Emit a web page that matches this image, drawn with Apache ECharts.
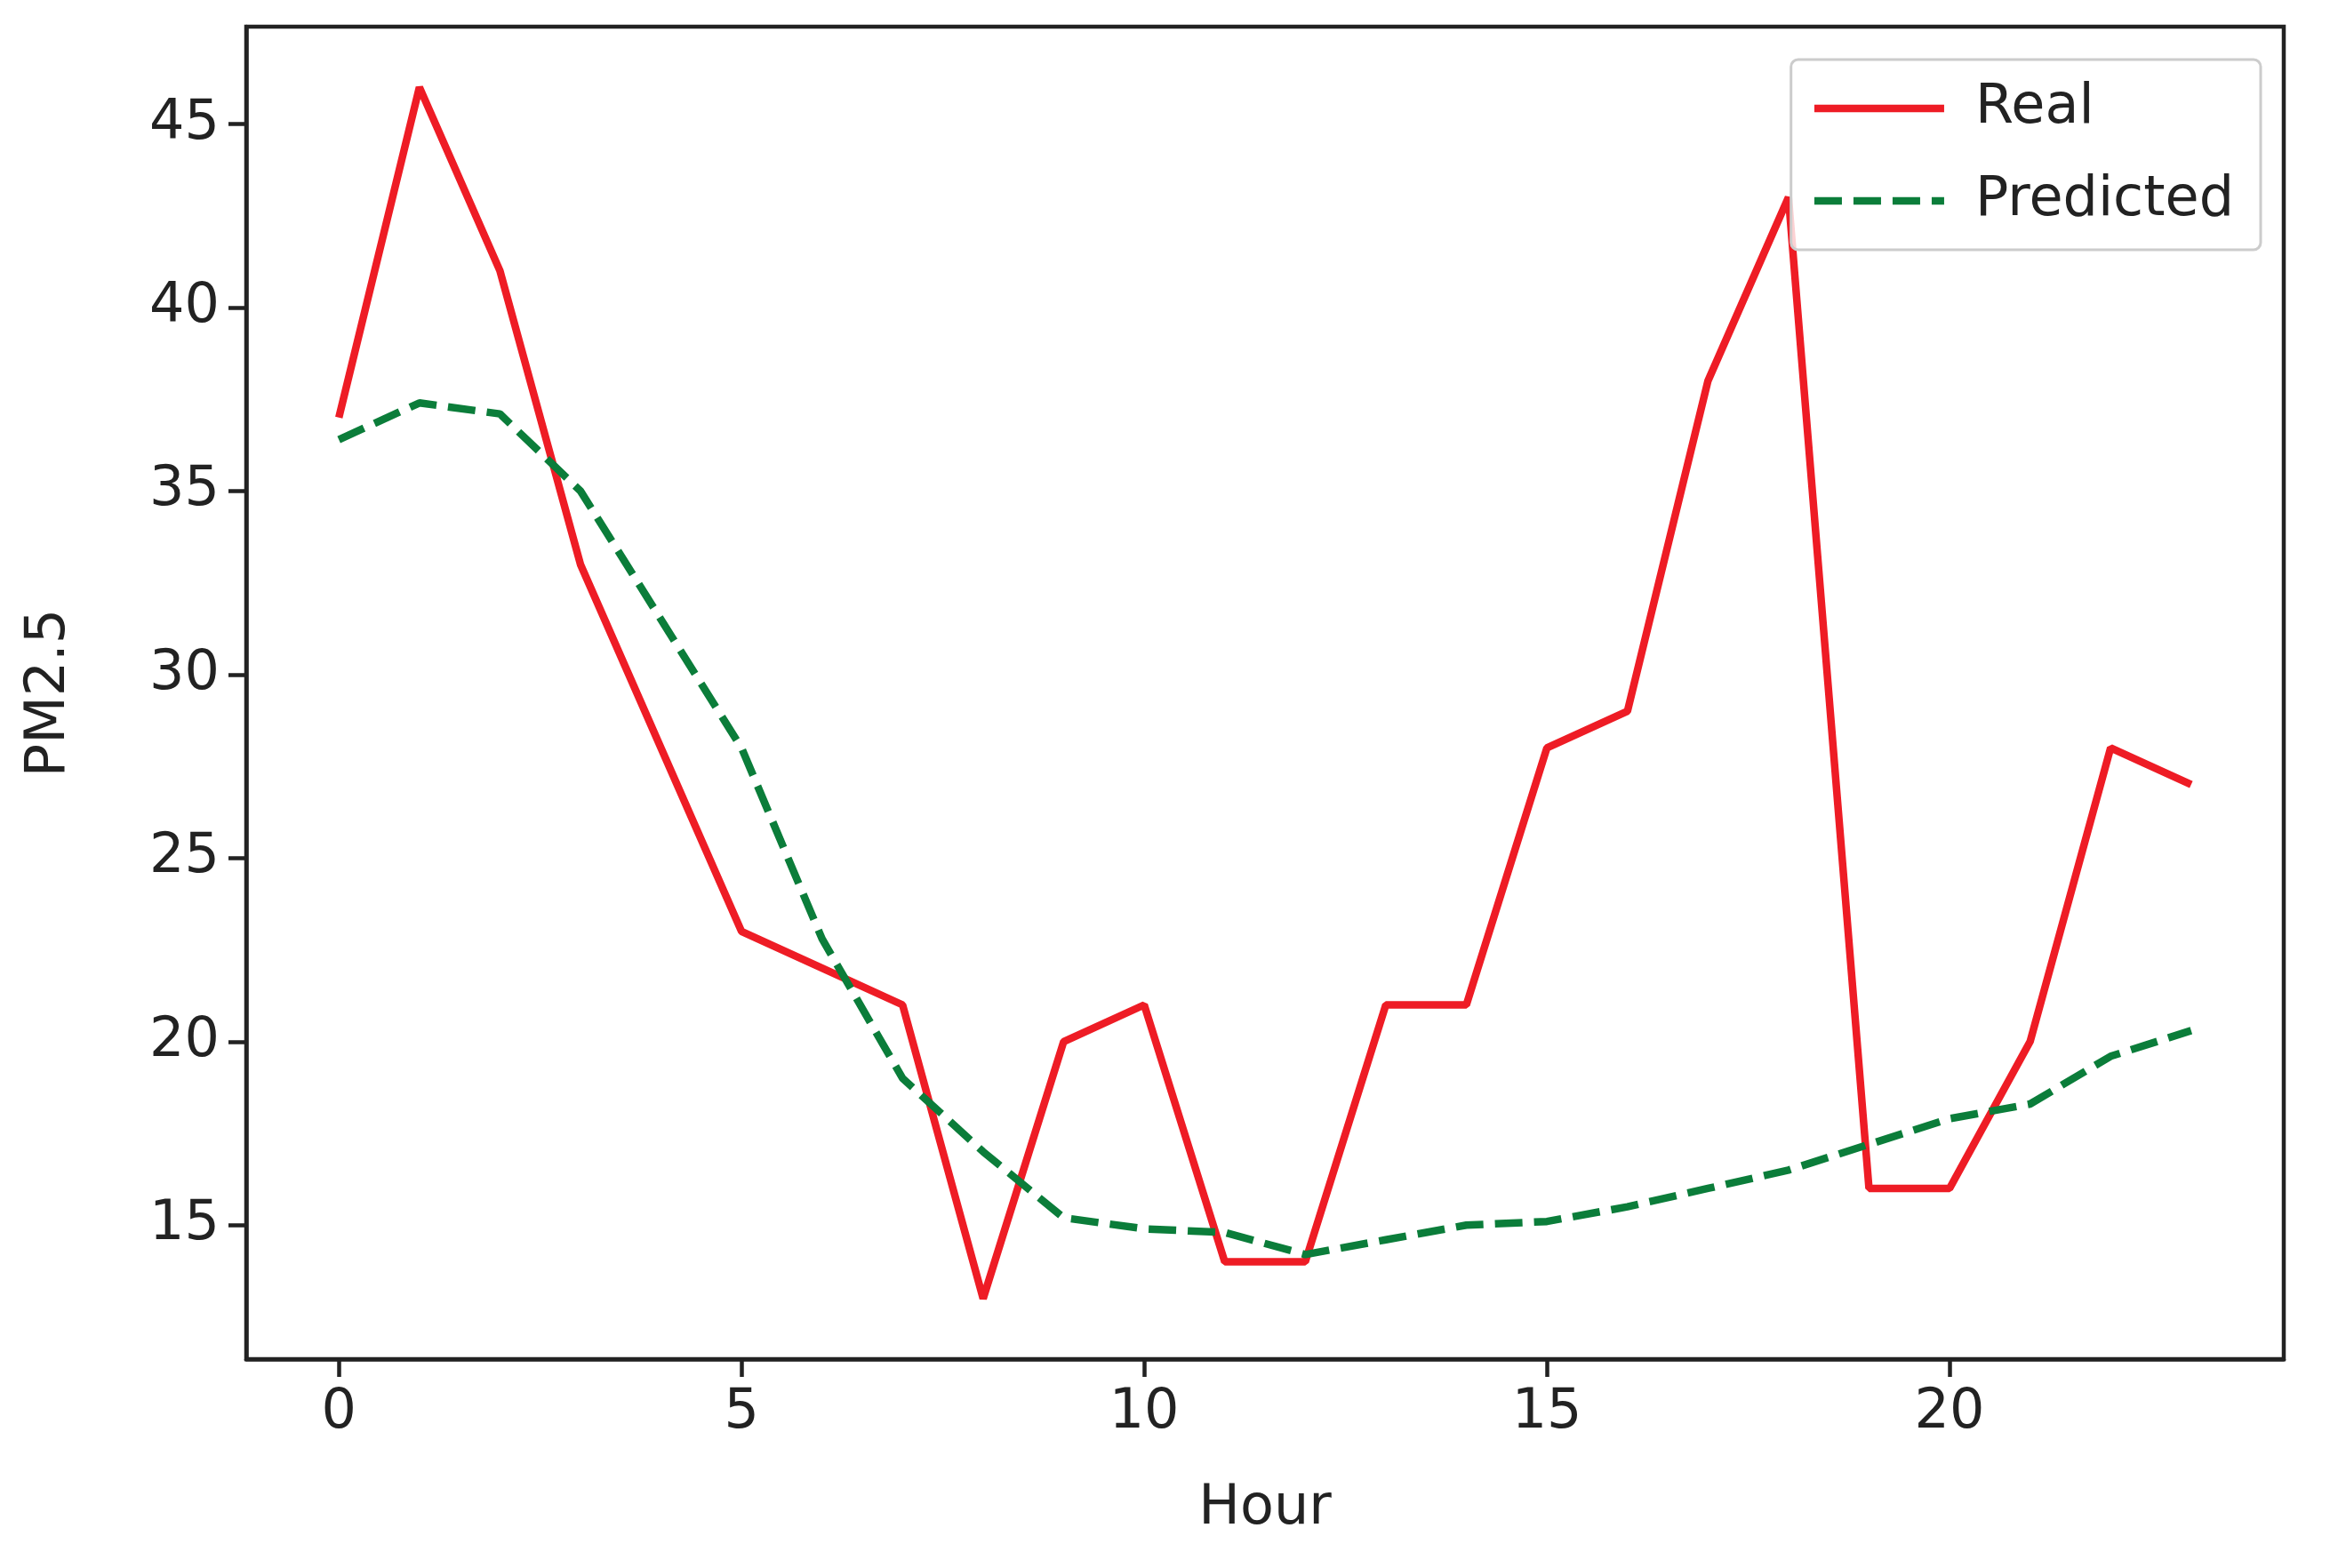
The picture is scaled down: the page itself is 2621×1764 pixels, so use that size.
<!DOCTYPE html>
<html><head><meta charset="utf-8">
<script src="https://cdn.jsdelivr.net/npm/echarts@6/dist/echarts.min.js"></script>
<style>html,body{margin:0;padding:0;background:#fff}#c{width:2621px;height:1764px}</style>
</head><body><div id="c"></div>
<script>
const hours = [0,1,2,3,4,5,6,7,8,9,10,11,12,13,14,15,16,17,18,19,20,21,22,23];
const realValues = [37,46,41,33,28,23,22,21,13,20,21,14,14,21,21,28,29,38,43,16,16,20,28,27];
const predictedValues = [36.4,37.4,37.1,35,31.5,28,22.8,19,17,15.2,14.9,14.8,14.2,14.6,15,15.1,15.5,16,16.5,17.2,17.9,18.3,19.6,20.3];
const xTicks = [0,5,10,15,20];
const yTicks = [15,20,25,30,35,40,45];
const font = 'DejaVu Sans';
const txt = '#222';
const chart = echarts.init(document.getElementById('c'));
const axisCommon = {
  axisLine:{show:true,onZero:false,lineStyle:{color:txt,width:4.5}},
  axisTick:{show:true,length:20,lineStyle:{color:txt,width:4.5}},
  splitLine:{show:false},
  nameTextStyle:{fontFamily:font,fontSize:62,color:txt}
};
chart.setOption({
  animation:false,
  grid:{left:277,right:52,top:30,bottom:235,show:true,borderColor:txt,borderWidth:4.5},
  legend:{
    orient:'vertical',right:78,top:67,
    data:['Real','Predicted'],
    itemWidth:146,itemHeight:30,itemGap:42,
    padding:[24,30,24,22],
    borderColor:'#ccc',borderWidth:3,borderRadius:8,backgroundColor:'rgba(255,255,255,0.8)',
    textStyle:{fontFamily:font,fontSize:62,color:txt,padding:[0,0,0,30]},
    lineStyle:{width:8.5},
    itemStyle:{opacity:0}
  },
  xAxis:Object.assign({type:'value',min:-1.15,max:24.15,name:'Hour',nameLocation:'middle',nameGap:138,
    axisLabel:{customValues:xTicks,fontFamily:font,fontSize:62,color:txt,margin:30},
  },axisCommon,{axisTick:Object.assign({},axisCommon.axisTick,{customValues:xTicks})}),
  yAxis:Object.assign({type:'value',min:11.35,max:47.65,name:'PM2.5',nameLocation:'middle',nameGap:190,
    axisLabel:{customValues:yTicks,fontFamily:font,fontSize:62,color:txt,margin:30},
  },axisCommon,{axisTick:Object.assign({},axisCommon.axisTick,{customValues:yTicks})}),
  series:[
    {name:'Real',type:'line',data:hours.map((h,i)=>[h,realValues[i]]),showSymbol:false,
     color:'#ee1c25',lineStyle:{color:'#ee1c25',width:8.5}},
    {name:'Predicted',type:'line',data:hours.map((h,i)=>[h,predictedValues[i]]),showSymbol:false,
     color:'#0b7d3a',lineStyle:{color:'#0b7d3a',width:8.5,type:[31,13]}}
  ]
});
</script></body></html>
